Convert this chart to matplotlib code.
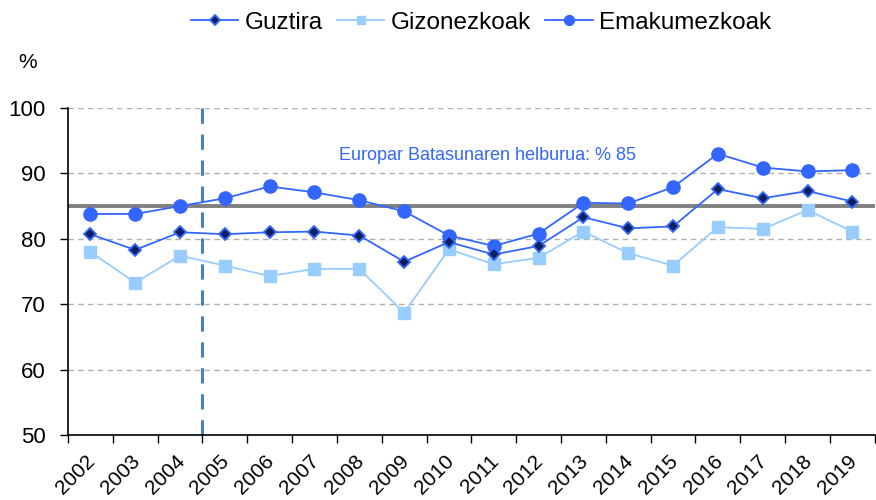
import numpy as np
import matplotlib
matplotlib.use('Agg')
import matplotlib.pyplot as plt
from matplotlib.transforms import ScaledTranslation

plt.rcParams['font.family'] = ['Liberation Sans', 'DejaVu Sans']

years = [str(y) for y in range(2002, 2020)]
guztira = [80.7, 78.3, 81.0, 80.7, 81.0, 81.1, 80.5, 76.5, 79.5, 77.6,
           78.9, 83.3, 81.6, 81.9, 87.6, 86.2, 87.3, 85.7]
gizonezkoak = [78.0, 73.3, 77.4, 75.9, 74.3, 75.4, 75.4, 68.7, 78.4, 76.1,
               77.1, 81.1, 77.8, 75.9, 81.8, 81.5, 84.4, 81.1]
emakumezkoak = [83.8, 83.8, 85.0, 86.2, 88.0, 87.1, 85.9, 84.2, 80.5, 78.9,
                80.8, 85.5, 85.4, 87.9, 93.0, 90.9, 90.3, 90.5]
target = 85
target_label = 'Europar Batasunaren helburua: % 85'

x = np.arange(len(years))

fig = plt.figure(figsize=(8.76, 5), dpi=100)
ax = fig.add_axes([0.0776, 0.13, 0.921, 0.654])

# grid
for v in [60, 70, 80, 90, 100]:
    ax.axhline(v, color='#b0b0b0', lw=1, ls=(0, (4, 3)), zorder=0)

ax.axhline(target, color='#808080', lw=2.8, zorder=1)
ax.axvline(2.5, ymin=0, ymax=1.01, color='#4a7fc0', lw=2.2, ls=(0, (5, 3.5)),
           clip_on=False, zorder=1)

ax.plot(x, guztira, color='#3366ff', lw=1.3, marker='D', ms=6.5,
        mfc='#0d1f5c', mec='#3366ff', mew=1.3, label='Guztira', zorder=4)
ax.plot(x, gizonezkoak, color='#99ccff', lw=1.3, marker='s', ms=8.5,
        mfc='#99ccff', mec='#99ccff', label='Gizonezkoak', zorder=3)
ax.plot(x, emakumezkoak, color='#3366ff', lw=1.3, marker='o', ms=9.5,
        mfc='#3366ff', mec='#3366ff', label='Emakumezkoak', zorder=3)

ax.text(8.87, 92.8, target_label, color='#3366ff', fontsize=13, ha='center', va='center')

ax.set_xlim(-0.5, len(years) - 0.5)
ax.set_ylim(50, 100)
ax.set_yticks([50, 60, 70, 80, 90, 100])
ax.tick_params(axis='y', labelsize=16, length=6, width=1, direction='out', pad=10)

ax.set_xticks(x)
ax.set_xticklabels(years, rotation=45, ha='right', rotation_mode='anchor', fontsize=15)
ax.tick_params(axis='x', which='major', length=0, pad=12)
ax.set_xticks(np.arange(-0.5, len(years), 1), minor=True)
ax.tick_params(axis='x', which='minor', length=6, width=1, direction='out')
shift = ScaledTranslation(-5 / 100, 0, fig.dpi_scale_trans)
for lbl in ax.get_xticklabels():
    lbl.set_transform(lbl.get_transform() + shift)

for s in ['top', 'right']:
    ax.spines[s].set_visible(False)
for s in ['left', 'bottom']:
    ax.spines[s].set_linewidth(1.2)

fig.text(0.032, 0.874, '%', fontsize=15, ha='center', va='center')

ax.legend(loc='upper center', bbox_to_anchor=(0.549, 1.02), bbox_transform=fig.transFigure,
          ncol=3, frameon=False, fontsize=17.5, handlelength=1.95, handletextpad=0.25,
          columnspacing=0.6, markerscale=0.75)

fig.savefig('out.png', dpi=100)
